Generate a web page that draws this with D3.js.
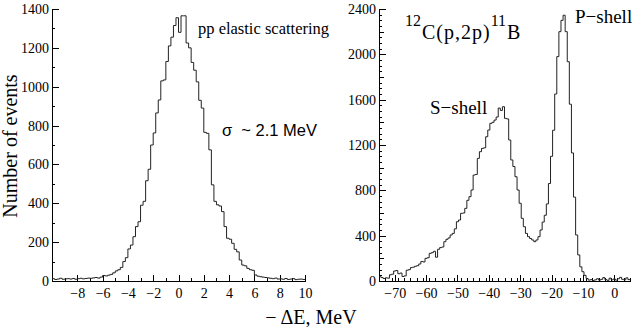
<!DOCTYPE html>
<html>
<head>
<meta charset="utf-8">
<script src="https://cdn.jsdelivr.net/npm/d3@7/dist/d3.min.js"></script>
<style>
  body { margin: 0; background: #fff; }
  text { font-family: "Liberation Serif", "DejaVu Serif", serif; fill: #000; }
  .axis path, .axis line { stroke: #000; stroke-width: 1; shape-rendering: crispEdges; }
</style>
</head>
<body>
<div id="chart"></div>
<script>
// Left panel: pp elastic scattering, bins of 0.2 MeV from -10
var ppStart = -10, ppWidth = 0.2;
var ppCounts = [
  12, 8, 10, 14, 9, 11, 12, 10, 13, 9,
  12, 14, 11, 13, 15, 14, 16, 18, 15, 20,
  28, 26, 30, 34, 42, 52, 58, 70, 100, 120,
  165, 185, 228, 280, 305, 390, 410, 516, 575, 700,
  762, 865, 932, 1030, 1035, 1130, 1210, 1255, 1315, 1355,
  1280, 1365, 1365, 1225, 1200, 1125, 1085, 1025, 930, 890,
  765, 760, 675, 495, 410, 392, 386, 357, 280, 220,
  215, 194, 163, 150, 108, 82, 78, 65, 58, 55,
  31, 25, 22, 20, 18, 16, 14, 12, 15, 10,
  11, 9, 13, 8, 10, 12, 7, 9, 10, 8
];
var ppXTicks = [-8, -6, -4, -2, 0, 2, 4, 6, 8, 10];
var ppYTicks = [0, 200, 400, 600, 800, 1000, 1200, 1400];

// Right panel: 12C(p,2p)11B, bins of 2/3 MeV from -75
var cStart = -75, cWidth = 2 / 3;
var cCounts = [
  38, 30, 22, 28, 25, 55, 60, 88, 92, 64,
  70, 40, 45, 95, 100, 118, 122, 130, 135, 150,
  172, 168, 200, 205, 244, 250, 262, 210, 280, 295,
  300, 347, 368, 380, 406, 420, 460, 523, 538, 597,
  600, 641, 712, 744, 803, 935, 940, 1082, 1141, 1170,
  1175, 1273, 1332, 1391, 1400, 1420, 1447, 1526, 1505, 1538,
  1435, 1430, 1244, 1068, 1010, 920, 803, 686, 553, 479,
  420, 391, 375, 362, 347, 362, 391, 450, 520, 580,
  680, 860, 1100, 1330, 1650, 1980, 2200, 2300, 2345, 2200,
  1935, 1560, 1130, 740, 406, 230, 125, 82, 50, 22,
  8, 12, 5, 10, 20, 8, 15, 30, 12, 6,
  25, 10, 18, 8, 20, 32, 15, 10, 28, 12
];
var cXTicks = [-70, -60, -50, -40, -30, -20, -10, 0];
var cYTicks = [0, 400, 800, 1200, 1600, 2000, 2400];

var W = 632, H = 327;
var svg = d3.select('#chart').append('svg')
    .attr('width', W)
    .attr('height', H);

function steps(start, width, counts) {
    var pts = [];
    counts.forEach(function (c, i) {
        pts.push([start + i * width, c]);
    });
    pts.push([start + counts.length * width, counts[counts.length - 1]]);
    return pts;
}

function minus(d) { return d < 0 ? '\u2212' + (-d) : String(d); }

function panel(opt) {
    var x = d3.scaleLinear().domain(opt.xDomain).range(opt.xRange);
    var y = d3.scaleLinear().domain(opt.yDomain).range([281, 9]);

    // minor ticks
    svg.append('g').attr('class', 'axis')
        .attr('transform', 'translate(0,' + y(0) + ')')
        .call(d3.axisBottom(x).tickValues(d3.range(opt.xDomain[0], opt.xDomain[1] + 1e-9, opt.xMinor))
            .tickSize(-3).tickFormat(''));
    svg.append('g').attr('class', 'axis')
        .attr('transform', 'translate(' + x(opt.xDomain[0]) + ',0)')
        .call(d3.axisLeft(y).tickValues(d3.range(0, opt.yDomain[1] + 1e-9, opt.yMinor))
            .tickSize(-3).tickFormat(''));
    if (opt.yMid) {
        svg.append('g').attr('class', 'axis')
            .attr('transform', 'translate(' + x(opt.xDomain[0]) + ',0)')
            .call(d3.axisLeft(y).tickValues(d3.range(0, opt.yDomain[1] + 1e-9, opt.yMid))
                .tickSize(-5).tickFormat(''));
    }

    // major ticks with labels
    var gx = svg.append('g').attr('class', 'axis')
        .attr('transform', 'translate(0,' + y(0) + ')')
        .call(d3.axisBottom(x).tickValues(opt.xTicks).tickSize(-6).tickSizeOuter(0)
            .tickPadding(7).tickFormat(minus));
    var gy = svg.append('g').attr('class', 'axis')
        .attr('transform', 'translate(' + x(opt.xDomain[0]) + ',0)')
        .call(d3.axisLeft(y).tickValues(opt.yTicks).tickSize(-7).tickSizeOuter(0)
            .tickPadding(3).tickFormat(d3.format('d')));
    [gx, gy].forEach(function (g) {
        g.attr('font-family', null).attr('font-size', null);
        g.selectAll('text')
            .style('font-family', '"Liberation Serif", serif')
            .style('font-size', '14px');
    });

    var line = d3.line()
        .x(function (d) { return x(d[0]); })
        .y(function (d) { return y(d[1]); })
        .curve(d3.curveStepAfter);

    svg.append('path')
        .datum(steps(opt.start, opt.width, opt.counts))
        .attr('d', line)
        .attr('fill', 'none')
        .attr('stroke', '#222')
        .attr('stroke-width', 1);
}

panel({
    xDomain: [-10, 10], xRange: [52, 305], yDomain: [0, 1400],
    xTicks: ppXTicks, yTicks: ppYTicks, xMinor: 1, yMinor: 100,
    start: ppStart, width: ppWidth, counts: ppCounts
});

panel({
    xDomain: [-75, 5], xRange: [379, 630], yDomain: [0, 2400],
    xTicks: cXTicks, yTicks: cYTicks, xMinor: 2, yMinor: 50, yMid: 200,
    start: cStart, width: cWidth, counts: cCounts
});

// Labels
svg.append('text')
    .attr('transform', 'translate(17,146) rotate(-90)')
    .attr('text-anchor', 'middle')
    .style('font-size', '20px')
    .text('Number of events');

svg.append('text')
    .attr('x', 311).attr('y', 324)
    .attr('text-anchor', 'middle')
    .style('font-size', '20px')
    .text('\u2212 \u0394E, MeV');

svg.append('text')
    .attr('x', 198).attr('y', 34)
    .style('font-size', '16.5px')
    .text('pp elastic scattering');

svg.append('text')
    .attr('x', 222).attr('y', 136)
    .style('font-family', '"Liberation Sans", Arial, sans-serif')
    .style('font-size', '16.5px')
    .text('\u03c3\u00a0\u00a0~ 2.1 MeV');

var react = svg.append('text')
    .attr('x', 405).attr('y', 39)
    .style('font-size', '20px');
react.append('tspan').attr('dy', -13).style('font-size', '16px').text('12');
react.append('tspan').attr('dy', 13).attr('dx', 1).style('letter-spacing', '1px').text('C(p,2p)');
react.append('tspan').attr('dy', -13).style('font-size', '16px').text('11');
react.append('tspan').attr('dy', 13).attr('dx', 1).text('B');

svg.append('text')
    .attr('x', 430).attr('y', 114)
    .style('font-size', '19px')
    .text('S\u2212shell');

svg.append('text')
    .attr('x', 575).attr('y', 23)
    .style('font-size', '19px')
    .text('P\u2212shell');
</script>
</body>
</html>
